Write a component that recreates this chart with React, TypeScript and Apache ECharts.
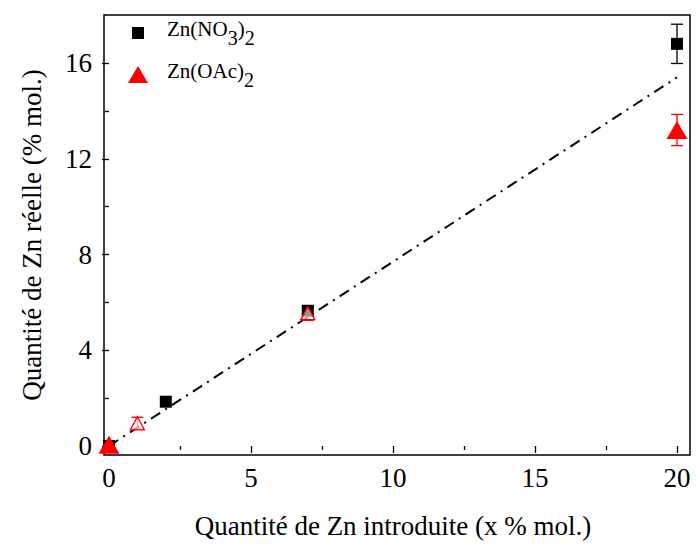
import React, { useEffect, useRef } from 'react';
import * as echarts from 'echarts';

const nitrateX = [0, 2, 7, 20];
const nitrateY = [0, 1.85, 5.65, 16.8];
const nitrateErr = [0, 0, 0.12, 0.82];
const acetateX = [0, 1, 7, 20];
const acetateY = [0.05, 0.95, 5.55, 13.2];
const acetateErr = [0, 0.25, 0.3, 0.65];
const acetateHollow = [false, true, true, false];
const fitX = [0, 20];
const fitY = [0, 15.4];
const xTickValues = [0, 5, 10, 15, 20];
const yTickValues = [0, 4, 8, 12, 16];
const xLabel = 'Quantité de Zn introduite (x % mol.)';
const yLabel = 'Quantité de Zn réelle (% mol.)';
const legendNames = ['Zn(NO3)2', 'Zn(OAc)2'];

const FONT = 'Liberation Serif';

function errorSeries(xs: number[], ys: number[], es: number[], color: string) {
  return {
    type: 'custom',
    clip: false,
    z: 3,
    data: xs.map((x, i) => [x, ys[i], es[i]]).filter((d) => d[2] > 0),
    renderItem: (params: any, api: any) => {
      const x = api.value(0);
      const y = api.value(1);
      const e = api.value(2);
      const top = api.coord([x, y + e]);
      const bot = api.coord([x, y - e]);
      const hw = 6;
      const st = { stroke: color, lineWidth: 1.3 };
      return {
        type: 'group',
        children: [
          { type: 'line', shape: { x1: top[0], y1: top[1], x2: bot[0], y2: bot[1] }, style: st },
          { type: 'line', shape: { x1: top[0] - hw, y1: top[1], x2: top[0] + hw, y2: top[1] }, style: st },
          { type: 'line', shape: { x1: bot[0] - hw, y1: bot[1], x2: bot[0] + hw, y2: bot[1] }, style: st },
        ],
      };
    },
  };
}

export default function App() {
  const ref = useRef<HTMLDivElement>(null);
  useEffect(() => {
    if (!ref.current) return;
    const chart = echarts.init(ref.current, null, { renderer: 'svg' });
    const richMain = { fontFamily: FONT, fontSize: 21, lineHeight: 30, verticalAlign: 'top', color: '#000' };
    const richSub = { fontFamily: FONT, fontSize: 20, lineHeight: 16, verticalAlign: 'bottom', color: '#000' };
    chart.setOption({
      animation: false,
      backgroundColor: '#fff',
      grid: { left: 109, right: 19, top: 63, bottom: 101, containLabel: false },
      xAxis: {
        type: 'value',
        min: xTickValues[0],
        max: xTickValues[xTickValues.length - 1],
        interval: 5,
        offset: 9,
        axisLine: { show: false },
        axisTick: { show: true, inside: false, length: 7, lineStyle: { color: '#000', width: 1.3 } },
        minorTick: { show: true, splitNumber: 2, length: 4, lineStyle: { color: '#000', width: 1.3 } },
        splitLine: { show: false },
        axisLabel: { fontFamily: FONT, fontSize: 27, color: '#000', margin: 9 },
        name: xLabel,
        nameLocation: 'middle',
        nameGap: 57,
        nameTextStyle: { fontFamily: FONT, fontSize: 27, color: '#000' },
      },
      yAxis: {
        type: 'value',
        min: yTickValues[0],
        max: yTickValues[yTickValues.length - 1],
        interval: 4,
        offset: 5,
        axisLine: { show: false },
        axisTick: { show: true, inside: false, length: 7, lineStyle: { color: '#000', width: 1.3 } },
        minorTick: { show: true, splitNumber: 2, length: 4, lineStyle: { color: '#000', width: 1.3 } },
        splitLine: { show: false },
        axisLabel: { fontFamily: FONT, fontSize: 27, color: '#000', margin: 12 },
      },
      graphic: [
        {
          type: 'rect',
          shape: { x: 104, y: 15, width: 586, height: 440 },
          style: { fill: 'none', stroke: '#000', lineWidth: 1.5 },
          z: 1,
        },
        {
          type: 'text',
          x: 32,
          y: 235,
          rotation: Math.PI / 2,
          style: {
            text: yLabel,
            fontFamily: FONT,
            fontSize: 27,
            fill: '#000',
            align: 'center',
            verticalAlign: 'middle',
          },
        },
        {
          type: 'rect',
          shape: { x: 132, y: 27, width: 12, height: 12 },
          style: { fill: '#000' },
        },
        {
          type: 'polygon',
          shape: { points: [[138, 66], [128, 83], [148, 83]] },
          style: { fill: '#ff0000' },
        },
        {
          type: 'text',
          x: 167,
          y: 18,
          style: {
            text: `{a|Zn(NO}{b|3}{a|)}{b|2}`,
            rich: { a: richMain, b: richSub },
          },
        },
        {
          type: 'text',
          x: 167,
          y: 60,
          style: {
            text: `{a|Zn(OAc)}{b|2}`,
            rich: { a: richMain, b: richSub },
          },
        },
      ],
      series: [
        {
          name: 'fit',
          type: 'line',
          data: fitX.map((x, i) => [x, fitY[i]]),
          showSymbol: false,
          symbol: 'none',
          clip: false,
          z: 2,
          lineStyle: { color: '#000', width: 2, type: [11, 6, 2, 6] },
        },
        errorSeries(nitrateX, nitrateY, nitrateErr, '#000'),
        errorSeries(acetateX, acetateY, acetateErr, '#ff0000'),
        {
          name: legendNames[0],
          type: 'scatter',
          clip: false,
          z: 4,
          symbol: 'rect',
          symbolSize: 12,
          itemStyle: { color: '#000', opacity: 1 },
          data: nitrateX.map((x, i) => [x, nitrateY[i]]),
        },
        {
          name: legendNames[1],
          type: 'scatter',
          clip: false,
          z: 5,
          symbol: 'triangle',
          data: acetateX.map((x, i) => ({
            value: [x, acetateY[i]],
            symbolSize: acetateHollow[i] ? [14, 13] : [21, 18],
            itemStyle: acetateHollow[i]
              ? { color: 'rgba(255,255,255,0.6)', borderColor: '#ff0000', borderWidth: 1.3, opacity: 1 }
              : { color: '#ff0000', opacity: 1 },
          })),
        },
      ],
    });
    return () => chart.dispose();
  }, []);
  return <div ref={ref} style={{ width: 696, height: 547, position: 'absolute', left: 0, top: 0 }} />;
}
